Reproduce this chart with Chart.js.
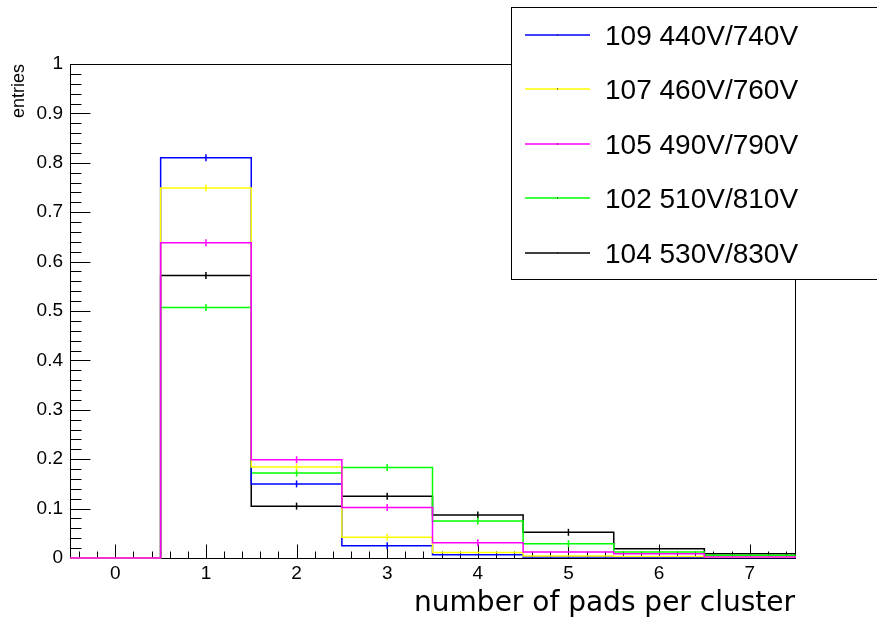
<!DOCTYPE html>
<html>
<head>
<meta charset="utf-8">
<title>pads per cluster</title>
<script src="https://cdn.jsdelivr.net/npm/chart.js@4.4.1/dist/chart.umd.min.js"></script>
<style>
  body { margin: 0; background: #ffffff; }
  #wrap { width: 877px; height: 629px; }
</style>
</head>
<body>
<div id="wrap"><canvas id="padsChart" width="877" height="629"></canvas></div>
<script>
// bin centres (number of pads) and tick labels
const binCenters = [0, 1, 2, 3, 4, 5, 6, 7];
const xTicks = [0, 1, 2, 3, 4, 5, 6, 7];
const yTicks = [0, 0.1, 0.2, 0.3, 0.4, 0.5, 0.6, 0.7, 0.8, 0.9, 1];

// normalised entries per run
const run109 = [0, 0.810, 0.150, 0.025, 0.0065, 0.002, 0.001, 0.0008];
const run107 = [0, 0.749, 0.184, 0.042, 0.011, 0.004, 0.003, 0.0015];
const run105 = [0, 0.638, 0.199, 0.102, 0.031, 0.012, 0.0085, 0.002];
const run102 = [0, 0.507, 0.172, 0.183, 0.075, 0.029, 0.012, 0.0055];
const run104 = [0, 0.572, 0.105, 0.125, 0.087, 0.052, 0.0187, 0.0085];

const seriesLabels = ['109 440V/740V', '107 460V/760V', '105 490V/790V', '102 510V/810V', '104 530V/830V'];
const seriesValues = [run109, run107, run105, run102, run104];
const seriesColors = ['#0000ff', '#ffff00', '#ff00ff', '#00ff00', '#000000'];
const drawOrder = [2, 1, 0, 3, 4];

// step outline: one point per lower bin edge, then close at the last edge
function stepPoints(values) {
    const pts = binCenters.map((c, i) => ({ x: c - 0.5, y: values[i] }));
    const last = binCenters[binCenters.length - 1] + 0.5;
    pts.push({ x: last, y: values[values.length - 1] });
    pts.push({ x: last, y: 0 });
    return pts;
}

const datasets = [];
seriesValues.forEach((vals, i) => {
    datasets.push({
        label: seriesLabels[i],
        data: stepPoints(vals),
        stepped: 'before',
        borderColor: seriesColors[i],
        borderWidth: 1.5,
        pointRadius: 0,
        fill: false,
        clip: false,
        order: drawOrder[i],
        inLegend: true
    });
});
// small error ticks at bin centres
seriesValues.forEach((vals, i) => {
    datasets.push({
        type: 'scatter',
        data: binCenters.map((c, j) => ({ x: c, y: vals[j] })).filter(p => p.y > 0.02),
        pointStyle: 'line',
        rotation: 90,
        pointRadius: 3.5,
        borderColor: seriesColors[i],
        backgroundColor: seriesColors[i],
        borderWidth: 1.5,
        clip: false,
        order: -1
    });
});

// frame plus inward tick marks, ROOT style
const frameTicks = {
    id: 'frameTicks',
    beforeDatasetsDraw(chart) {
        const { ctx, chartArea: a, scales: { x, y } } = chart;
        ctx.save();
        ctx.strokeStyle = '#000';
        ctx.lineWidth = 1;
        ctx.strokeRect(Math.round(a.left) + 0.5, Math.round(a.top) + 0.5,
            Math.round(a.right - a.left), Math.round(a.bottom - a.top));
        ctx.beginPath();
        const yb = Math.round(a.bottom) + 0.5;
        for (let k = -2; k <= 37; k++) {
            const px = Math.round(x.getPixelForValue(k / 5)) + 0.5;
            const len = k % 5 === 0 ? 14 : 7;
            ctx.moveTo(px, yb);
            ctx.lineTo(px, yb - len);
        }
        const xl = Math.round(a.left) + 0.5;
        for (let k = 0; k <= 50; k++) {
            const py = Math.round(y.getPixelForValue(k / 50)) + 0.5;
            const len = k % 5 === 0 ? 20 : 11;
            ctx.moveTo(xl, py);
            ctx.lineTo(xl + len, py);
        }
        ctx.stroke();
        ctx.restore();
    }
};

// boxed legend in the top right corner
const boxLegend = {
    id: 'boxLegend',
    afterDraw(chart) {
        const ctx = chart.ctx;
        const items = chart.data.datasets.filter(d => d.inLegend);
        ctx.save();
        ctx.fillStyle = '#fff';
        ctx.fillRect(511.5, 7.5, 380, 272);
        ctx.strokeStyle = '#000';
        ctx.lineWidth = 1;
        ctx.strokeRect(511.5, 7.5, 380, 272);
        ctx.font = '28px "Liberation Sans", Arial, sans-serif';
        ctx.textBaseline = 'middle';
        items.forEach((d, i) => {
            const yy = Math.round(35 + i * 54.4);
            ctx.strokeStyle = d.borderColor;
            ctx.lineWidth = 1.5;
            ctx.beginPath();
            ctx.moveTo(525, yy);
            ctx.lineTo(590, yy);
            ctx.stroke();
            ctx.fillStyle = '#000';
            ctx.fillRect(557, yy - 0.5, 1, 1);
            ctx.fillText(d.label, 605, yy + 2);
        });
        ctx.restore();
    }
};

const ctx = document.getElementById('padsChart').getContext('2d');
const padsChart = new Chart(ctx, {
    type: 'line',
    data: { datasets: datasets },
    options: {
        responsive: false,
        animation: false,
        devicePixelRatio: 1,
        layout: { padding: { left: 0, top: 64, right: 82, bottom: 0 } },
        plugins: {
            legend: { display: false },
            tooltip: { enabled: false }
        },
        scales: {
            x: {
                type: 'linear',
                min: -0.5,
                max: 7.5,
                grid: { display: false, drawTicks: false },
                border: { display: false },
                afterBuildTicks: axis => { axis.ticks = xTicks.map(v => ({ value: v })); },
                afterFit: axis => { axis.height = 71; },
                ticks: {
                    color: '#000',
                    padding: 4,
                    maxRotation: 0,
                    autoSkip: false,
                    font: { family: '"Liberation Sans", Arial, sans-serif', size: 19 }
                },
                title: {
                    display: true,
                    text: 'number of pads per cluster',
                    align: 'end',
                    color: '#000',
                    padding: { top: 0, bottom: 8 },
                    font: { family: '"DejaVu Sans", Verdana, sans-serif', size: 28 }
                }
            },
            y: {
                min: 0,
                max: 1,
                grid: { display: false, drawTicks: false },
                border: { display: false },
                afterBuildTicks: axis => { axis.ticks = yTicks.map(v => ({ value: v })); },
                afterFit: axis => { axis.width = 70; },
                ticks: {
                    color: '#000',
                    padding: 7,
                    autoSkip: false,
                    callback: v => String(+v.toFixed(1)),
                    font: { family: '"Liberation Sans", Arial, sans-serif', size: 19 }
                },
                title: {
                    display: true,
                    text: 'entries',
                    align: 'end',
                    color: '#000',
                    padding: { top: 8, bottom: 0 },
                    font: { family: '"Liberation Sans", Arial, sans-serif', size: 18 }
                }
            }
        }
    },
    plugins: [frameTicks, boxLegend]
});
</script>
</body>
</html>
